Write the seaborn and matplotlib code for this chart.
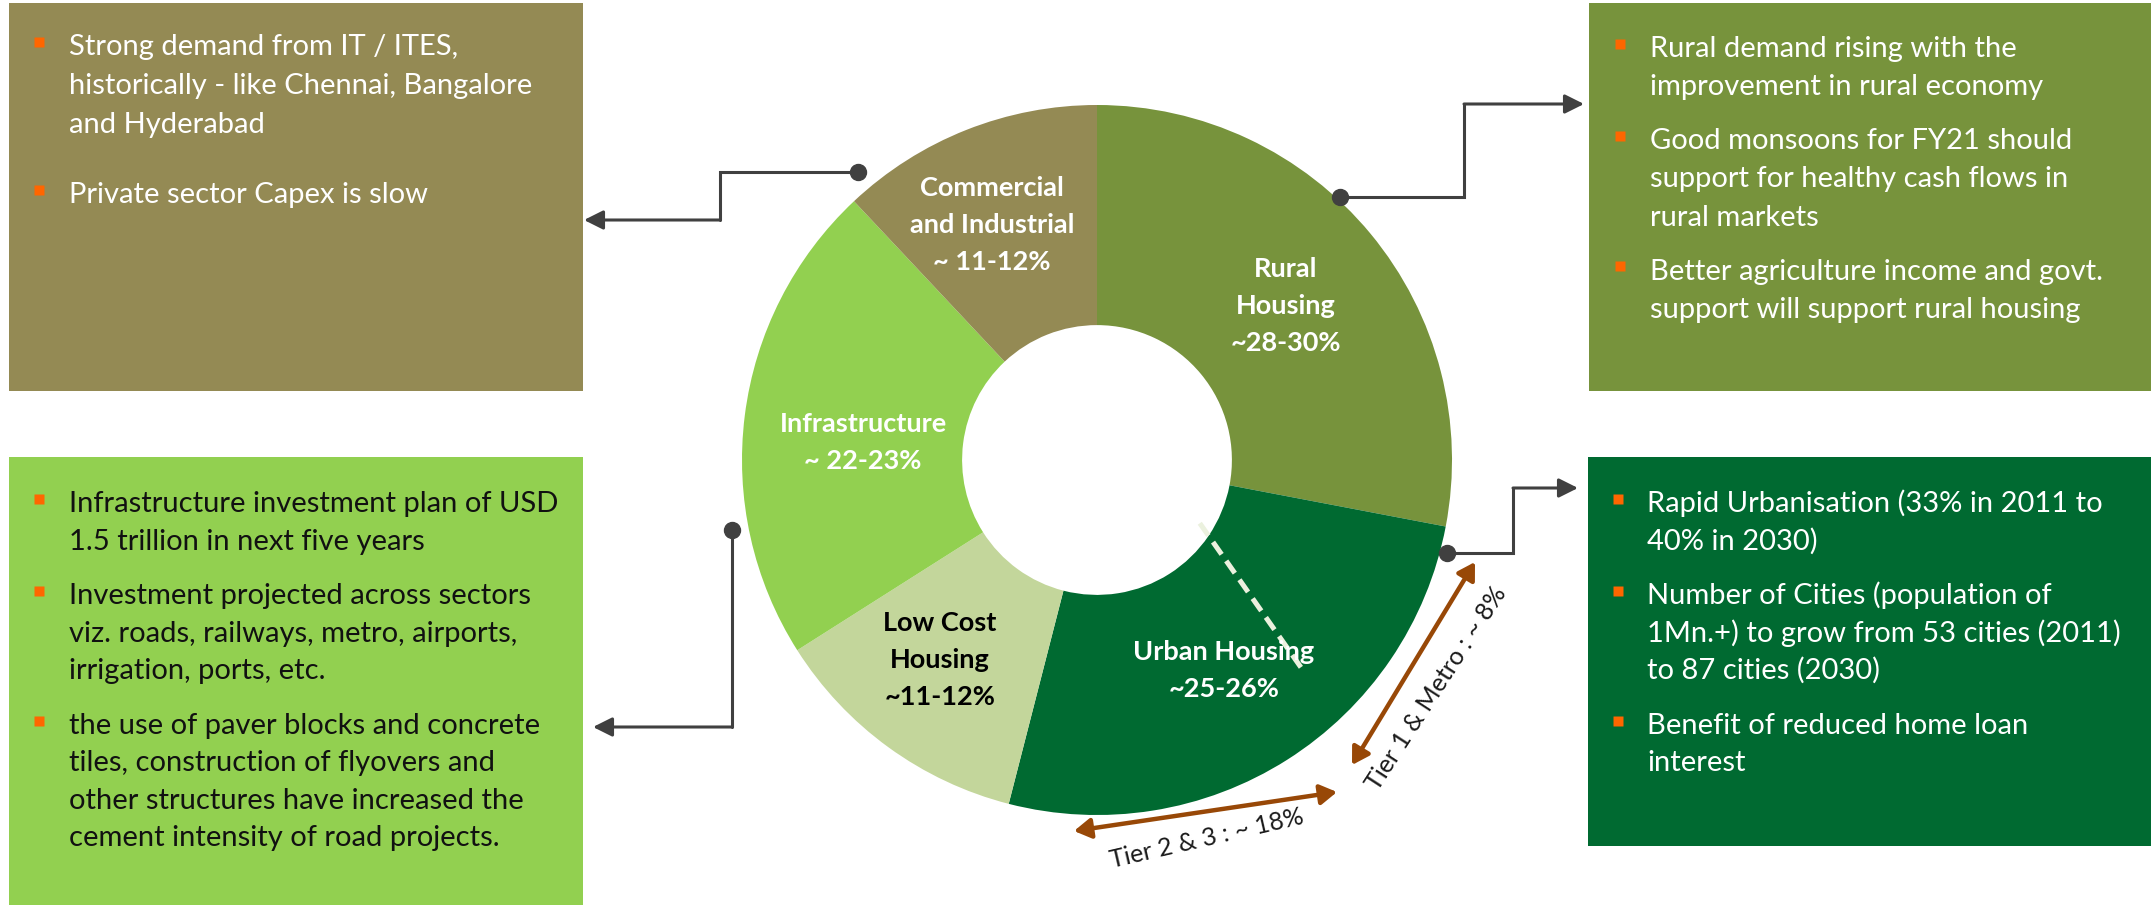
import matplotlib
matplotlib.use("Agg")
import matplotlib.pyplot as plt
from matplotlib.patches import Rectangle
import seaborn as sns
import numpy as np

# ---------------------------------------------------------
# Data: cement demand split (clockwise from 12 o'clock)
# ---------------------------------------------------------
segments = ["Rural Housing", "Urban Housing", "Low Cost Housing",
            "Infrastructure", "Commercial and Industrial"]
shares = [28, 26, 12, 22, 12]
seg_labels = [
    ["Rural", "Housing", "~28-30%"],
    ["Urban Housing", "~25-26%"],
    ["Low Cost", "Housing", "~11-12%"],
    ["Infrastructure", "~ 22-23%"],
    ["Commercial", "and Industrial", "~ 11-12%"],
]
seg_colors = ["#77933C", "#006A31", "#C3D69B", "#92D050", "#948A54"]
seg_text_colors = ["white", "white", "black", "white", "white"]

# urban housing split
tier_labels = ["Tier 1 & Metro : ~ 8%", "Tier 2 & 3 : ~ 18%"]
tier_shares = [8, 18]

# side notes
notes_commercial = [
    ["Strong demand from IT / ITES,", "historically - like Chennai, Bangalore", "and Hyderabad"],
    ["Private sector Capex is slow"],
]
notes_rural = [
    ["Rural demand rising with the", "improvement in rural economy"],
    ["Good monsoons for FY21 should", "support for healthy cash flows in", "rural markets"],
    ["Better agriculture income and govt.", "support will support rural housing"],
]
notes_infra = [
    ["Infrastructure investment plan of USD", "1.5 trillion in next five years"],
    ["Investment projected across sectors", "viz. roads, railways, metro, airports,", "irrigation, ports, etc."],
    ["the use of paver blocks and concrete", "tiles, construction of flyovers and",
     "other structures have increased the", "cement intensity of road projects."],
]
notes_urban = [
    ["Rapid Urbanisation (33% in 2011 to", "40% in 2030)"],
    ["Number of Cities (population of", "1Mn.+) to grow from 53 cities (2011)", "to 87 cities (2030)"],
    ["Benefit of reduced home loan", "interest"],
]

# ---------------------------------------------------------
# Layout (pixels)
# ---------------------------------------------------------
W, H = 2151, 905
CX, CY, R = 1097, 460, 355
HOLE = 0.38
ORANGE = "#FF6600"
LINE = "#404040"
BROWN = "#984807"

sns.set_theme(style="white")
plt.rcParams["font.family"] = ["Lato", "DejaVu Sans"]

fig = plt.figure(figsize=(W / 100, H / 100), dpi=100)

# donut
pax = fig.add_axes([(CX - R) / W, (H - CY - R) / H, 2 * R / W, 2 * R / H], zorder=1)
palette = sns.color_palette(seg_colors)
pax.pie(shares, colors=palette, startangle=90, counterclock=False, radius=1,
        wedgeprops=dict(width=1 - HOLE, linewidth=0))
pax.set_xlim(-1, 1)
pax.set_ylim(-1, 1)
pax.set_aspect("equal")
pax.axis("off")

# dashed divider inside urban housing (tier 1 | tier 2&3)
theta = np.deg2rad(360 * (shares[0] + tier_shares[0]) / 100)
t0, t1 = theta - np.deg2rad(8), theta + np.deg2rad(6)
pax.plot([0.34 * np.sin(t0), 0.83 * np.sin(t1)], [0.34 * np.cos(t0), 0.83 * np.cos(t1)],
         ls=(0, (3, 1.6)), color="#EBF1DE", lw=3.6, solid_capstyle="butt")

# overlay in pixel coordinates
ax = fig.add_axes([0, 0, 1, 1], zorder=3)
ax.set_xlim(0, W)
ax.set_ylim(H, 0)
ax.axis("off")

boxes = [
    (9, 3, 583, 391, seg_colors[4]),
    (9, 457, 583, 905, seg_colors[3]),
    (1589, 3, 2151, 391, seg_colors[0]),
    (1588, 457, 2151, 846, seg_colors[1]),
]
for x0, y0, x1, y1, c in boxes:
    ax.add_patch(Rectangle((x0, y0), x1 - x0, y1 - y0, facecolor=c, edgecolor="none", zorder=1))


def draw_notes(paras, xb, xt, y, pitch, gap, color):
    for para in paras:
        ax.plot(xb, y - 3, marker="s", ms=7, color=ORANGE, mec="none", zorder=3)
        for line in para:
            ax.text(xt, y + 10, line, color=color, fontsize=21, ha="left", va="baseline", zorder=3)
            y += pitch
        y += gap


draw_notes(notes_commercial, 39, 69, 45, 39, 31, "white")
draw_notes(notes_rural, 1620, 1650, 47, 38.5, 15, "white")
draw_notes(notes_infra, 39, 69, 502, 37.5, 17, "#111111")
draw_notes(notes_urban, 1618, 1647, 502, 37.5, 17, "white")

# segment labels
label_pos = [(1286, 268), (1224, 651), (940, 622), (863, 423), (992, 187)]
for (lx, ly), lines, tc in zip(label_pos, seg_labels, seg_text_colors):
    for i, line in enumerate(lines):
        ax.text(lx, ly + 9 + i * 37, line, color=tc, fontsize=19.5, fontweight="bold",
                ha="center", va="baseline", zorder=4)

# connectors: dot on the ring -> elbow -> arrow into the note box
connectors = [
    [(858, 172), (720, 172), (720, 220), (584, 220)],
    [(1340, 197), (1464, 197), (1464, 104), (1584, 104)],
    [(732, 530), (732, 727), (593, 727)],
    [(1447, 553), (1513, 553), (1513, 488), (1578, 488)],
]
for pts in connectors:
    xs, ys = zip(*pts)
    ax.plot(xs[:-1], ys[:-1], color=LINE, lw=2.2, zorder=4, solid_joinstyle="miter")
    ax.plot(xs[0], ys[0], marker="o", ms=11.5, color=LINE, zorder=5)
    ax.annotate("", xy=pts[-1], xytext=pts[-2],
                arrowprops=dict(arrowstyle="-|>,head_length=0.58,head_width=0.29", mutation_scale=20,
                                color=LINE, lw=2.2, shrinkA=0, shrinkB=0), zorder=4)

# tier arrows and labels
tier_arrows = [((1475, 562), (1352, 765)), ((1337, 792), (1074, 831))]
tier_text = [((1436, 688), 57), ((1207, 838), 13)]
for (p0, p1), ((tx, ty), rot), lab in zip(tier_arrows, tier_text, tier_labels):
    ax.annotate("", xy=p1, xytext=p0,
                arrowprops=dict(arrowstyle="<|-|>,head_length=0.5,head_width=0.3", mutation_scale=20,
                                color=BROWN, lw=3.2, shrinkA=0, shrinkB=0), zorder=4)
    ax.text(tx, ty, lab, fontsize=18, color="#1a1a1a", rotation=rot, rotation_mode="anchor",
            ha="center", va="center", zorder=4)

fig.savefig("out.png", dpi=100)
